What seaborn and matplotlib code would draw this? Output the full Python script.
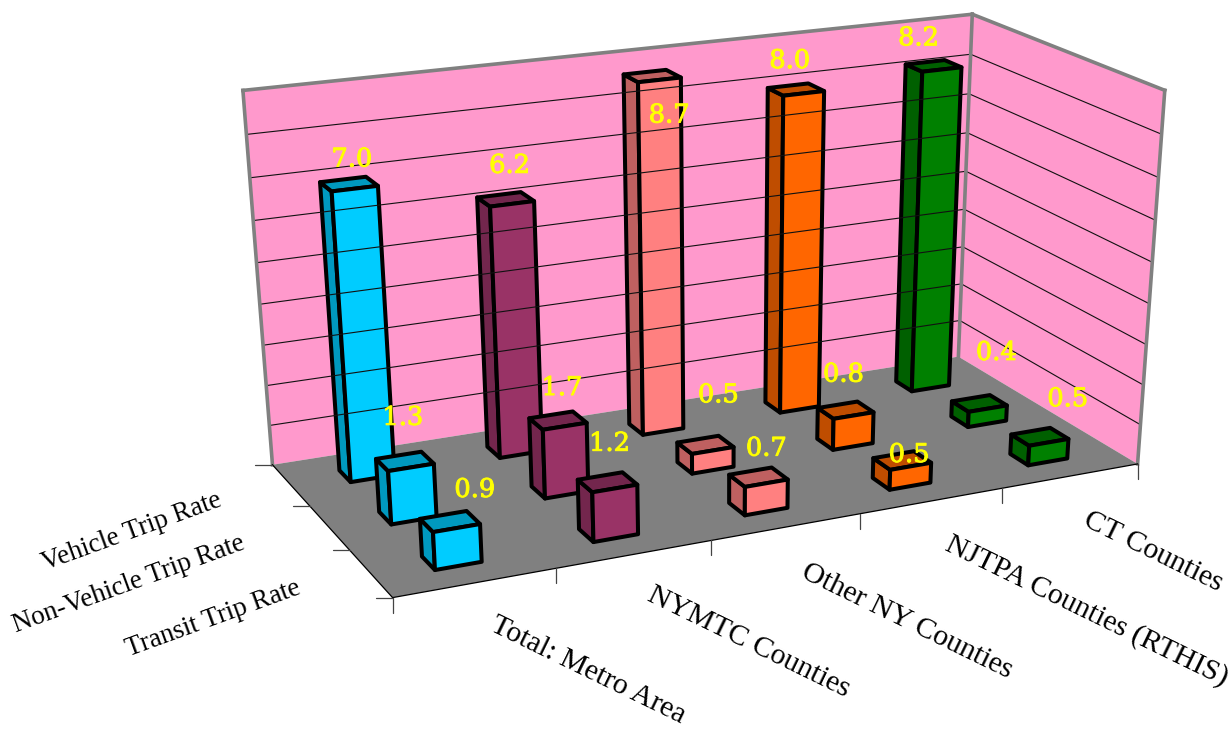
import numpy as np
import pandas as pd
import seaborn as sns
import matplotlib
matplotlib.use("Agg")
import matplotlib.pyplot as plt
import matplotlib.patheffects as pe
from matplotlib.patches import Polygon

# Trip rates by region and trip type
regions = ["Total: Metro Area", "NYMTC Counties", "Other NY Counties",
           "NJTPA Counties (RTHIS)", "CT Counties"]
trip_types = ["Vehicle Trip Rate", "Non-Vehicle Trip Rate", "Transit Trip Rate"]
vehicle_rate = [7.0, 6.2, 8.7, 8.0, 8.2]
non_vehicle_rate = [1.3, 1.7, 0.5, 0.8, 0.4]
transit_rate = [0.9, 1.2, 0.7, 0.5, 0.5]
region_colors = ["#00CCFF", "#993366", "#FF8080", "#FF6600", "#008000"]

# Pixel nudges of the value labels from the centre of each bar's top, per trip type
label_nudge = {
    "Vehicle Trip Rate": [(3, -25), (4, -34), (17, 39), (-6, -29), (-15, -28)],
    "Non-Vehicle Trip Rate": [(-2, -44), (4, -33), (13, -50), (-2, -36), (38 - 21, -51)],
    "Transit Trip Rate": [(25, -32), (2, -39), (8, -29), (7, -6), (28, -38)],
}
region_label_nudge = [(113, 88), (115, 88), (121, 94), (155, 110), (83, 76)]
type_label_nudge = [(-159, 47), (-200, 57), (-157, 45)]

VALUE_MAX = 9
BAR_W = 0.29
BAR_D = 0.29

df = pd.DataFrame({
    "region": regions * 3,
    "trip_type": np.repeat(trip_types, len(regions)),
    "rate": vehicle_rate + non_vehicle_rate + transit_rate,
})

sns.set_theme(style="white")
plt.rcParams["font.family"] = ["Liberation Serif", "DejaVu Serif"]
palette = sns.color_palette(region_colors)

fig = plt.figure(figsize=(12.3, 7.29), dpi=100)
ax = fig.add_axes([0, 0, 1, 1])
ax.set_xlim(0, 1230)
ax.set_ylim(729, 0)
ax.set_axis_off()
sns.despine(ax=ax, left=True, bottom=True)

# Perspective camera solved from the corners of the chart box
nx, ny = len(regions), len(trip_types)
box = np.array([
    (0, ny, 0), (nx, ny, 0), (nx, 0, 0), (0, 0, 0),
    (0, 0, VALUE_MAX), (nx, 0, VALUE_MAX), (nx, ny, VALUE_MAX)], float)
screen = np.array([(393, 599), (1137, 463), (959, 358), (272, 463),
                   (243, 91), (972, 14), (1165, 90)], float)
rows, rhs = [], []
for (X, Y, Z), (u, v) in zip(box, screen):
    rows.append([X, Y, Z, 1, 0, 0, 0, 0, -u * X, -u * Y, -u * Z])
    rows.append([0, 0, 0, 0, X, Y, Z, 1, -v * X, -v * Y, -v * Z])
    rhs += [u, v]
cam = np.append(np.linalg.lstsq(np.array(rows), np.array(rhs), rcond=None)[0], 1).reshape(3, 4)


def project(x, y, z):
    p = cam @ np.array([x, y, z, 1.0])
    return p[0] / p[2], p[1] / p[2]


def face(corners, color, **kw):
    ax.add_patch(Polygon([project(*c) for c in corners], closed=True, facecolor=color, **kw))


PINK, GREY = "#FF99CC", "#808080"
face([(0, 0, 0), (nx, 0, 0), (nx, 0, VALUE_MAX), (0, 0, VALUE_MAX)], PINK, edgecolor="none")
face([(nx, 0, 0), (nx, ny, 0), (nx, ny, VALUE_MAX), (nx, 0, VALUE_MAX)], PINK, edgecolor="none")
face([(0, 0, 0), (nx, 0, 0), (nx, ny, 0), (0, ny, 0)], GREY, edgecolor="none")


def segment(a, b, **kw):
    pa, pb = project(*a), project(*b)
    ax.plot([pa[0], pb[0]], [pa[1], pb[1]], solid_capstyle="projecting", **kw)


# Gridlines on the two walls
for level in range(1, VALUE_MAX):
    segment((0, 0, level), (nx, 0, level), color="#111111", lw=0.8)
    segment((nx, 0, level), (nx, ny, level), color="#111111", lw=0.8)

# Grey frame around the walls
for a, b in [((0, 0, 0), (0, 0, VALUE_MAX)), ((0, 0, VALUE_MAX), (nx, 0, VALUE_MAX)),
             ((nx, 0, 0), (nx, 0, VALUE_MAX)), ((nx, 0, VALUE_MAX), (nx, ny, VALUE_MAX)),
             ((nx, ny, VALUE_MAX), (nx, ny, 0))]:
    segment(a, b, color=GREY, lw=2.6)

# Floor edges and ticks
segment((0, 0, 0), (0, ny, 0), color="black", lw=0.9)
segment((0, ny, 0), (nx, ny, 0), color="black", lw=0.9)
for i in range(nx + 1):
    u, v = project(i, ny, 0)
    ax.plot([u, u], [v, v + 15], color="#444444", lw=0.9)
for j in range(ny + 1):
    u, v = project(0, j, 0)
    ax.plot([u - 17, u], [v, v], color="#444444", lw=0.9)


def shade(color, k=0.75):
    return tuple(c * k for c in color)


# Bars, painted from the back row forward
labels = []
for j, trip in enumerate(trip_types):
    sub = df[df["trip_type"] == trip]
    for i, rate in enumerate(sub["rate"]):
        x0, x1 = i + 0.5 - BAR_W / 2, i + 0.5 + BAR_W / 2
        y0, y1 = j + 0.5 - BAR_D / 2, j + 0.5 + BAR_D / 2
        style = dict(edgecolor="black", lw=2.9, joinstyle="round")
        col = palette[i]
        face([(x0, y0, 0), (x0, y1, 0), (x0, y1, rate), (x0, y0, rate)], shade(col), **style)
        face([(x0, y0, rate), (x1, y0, rate), (x1, y1, rate), (x0, y1, rate)], shade(col), **style)
        face([(x0, y1, 0), (x1, y1, 0), (x1, y1, rate), (x0, y1, rate)], col, **style)
        u, v = project(i + 0.5, j + 0.5, rate)
        dx, dy = label_nudge[trip][i]
        labels.append((u + dx, v + dy, f"{rate:.1f}"))

# Value labels sit above every bar
heavier = [pe.withStroke(linewidth=0.7, foreground="#FFFF00")]
for u, v, text in labels:
    ax.text(u, v, text, color="#FFFF00", fontsize=18.5, family=["DejaVu Serif"],
            ha="center", va="center", zorder=20, path_effects=heavier)

# Axis category labels
for i, name in enumerate(regions):
    u, v = project(i + 0.5, ny, 0)
    dx, dy = region_label_nudge[i]
    ax.text(u + dx, v + dy, name, rotation=-26, rotation_mode="anchor", fontsize=21.5,
            ha="center", va="center", color="black")
for j, name in enumerate(trip_types):
    u, v = project(0, j + 0.5, 0)
    dx, dy = type_label_nudge[j]
    ax.text(u + dx, v + dy, name, rotation=20, rotation_mode="anchor", fontsize=19.5,
            ha="center", va="center", color="black")

fig.savefig("out.png", dpi=100, facecolor="white")
